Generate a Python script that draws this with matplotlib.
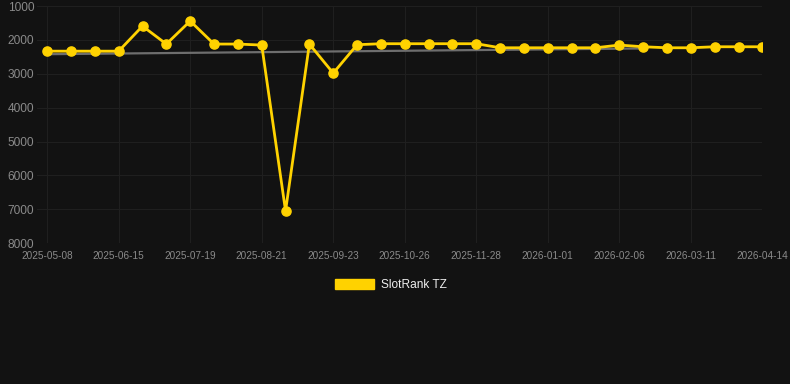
import matplotlib
matplotlib.use("Agg")
import matplotlib.pyplot as plt
from matplotlib.patches import Patch

plt.rcParams["font.family"] = ["Liberation Sans", "DejaVu Sans"]

# category labels (every third point carries a label)
tick_labels = ["2025-05-08", "2025-06-15", "2025-07-19", "2025-08-21", "2025-09-23",
               "2025-10-26", "2025-11-28", "2026-01-01", "2026-02-06", "2026-03-11",
               "2026-04-14"]

rank = [2330, 2330, 2330, 2330, 1590, 2120, 1440, 2120, 2120, 2150,
        7050, 2120, 2980, 2140, 2110, 2110, 2110, 2110, 2110, 2230,
        2230, 2230, 2230, 2230, 2150, 2200, 2230, 2230, 2200, 2200,
        2200]

# grey trend line: start / end index and value
trend_idx = [0, 25]
trend_val = [2420, 2250]

bg = "#121212"
yellow = "#FFD200"

fig = plt.figure(figsize=(7.9, 3.84), dpi=100, facecolor=bg)
ax = fig.add_axes([0.047, 0.367, 0.918, 0.617], facecolor=bg)

x = list(range(len(rank)))
ax.plot(trend_idx, trend_val, color="#6e6e6e", lw=1.6, zorder=2)
ax.plot(x, rank, color=yellow, lw=2.0, marker="o", markersize=6.6,
        solid_joinstyle="miter", zorder=3)

ax.set_ylim(8000, 1000)
ax.set_yticks(range(1000, 8001, 1000))
ax.set_xlim(-0.42, 30)
ax.set_xticks(range(0, len(rank), 3))
ax.set_xticklabels(tick_labels)

ax.grid(True, color="#1f1f1f", lw=0.8)
ax.set_axisbelow(True)
for s in ax.spines.values():
    s.set_visible(False)
ax.tick_params(axis="y", length=0, colors="#8a8a8a", labelsize=8.6, pad=2)
ax.tick_params(axis="x", length=0, colors="#8a8a8a", labelsize=7.2, pad=6)

fig.legend(handles=[Patch(facecolor=yellow, edgecolor=yellow)], labels=["SlotRank TZ"],
           loc="center", bbox_to_anchor=(0.495, 0.258), frameon=False,
           labelcolor="#eeeeee", fontsize=8.6, handlelength=3.3, handleheight=0.95,
           handletextpad=0.6)

fig.savefig("out.png", dpi=100, facecolor=bg)
